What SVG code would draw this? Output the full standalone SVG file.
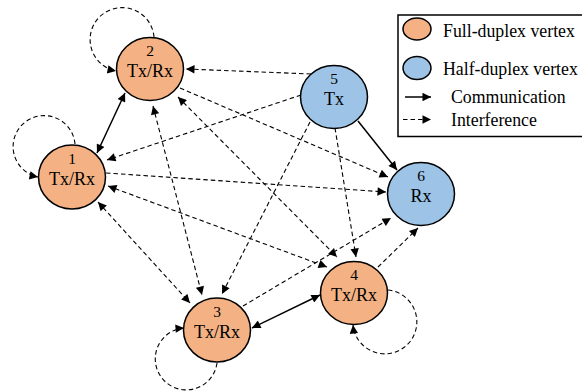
<svg xmlns="http://www.w3.org/2000/svg" width="582" height="392" viewBox="0 0 582 392">
<style>
.fd{fill:#F4B183;stroke:#000;stroke-width:1.5}
.hd{fill:#9DC3E6;stroke:#000;stroke-width:1.5}
.num{font-family:"Liberation Serif","Times New Roman",serif;font-size:15.5px;text-anchor:middle;fill:#000}
.lbl{font-family:"Liberation Serif","Times New Roman",serif;font-size:18px;text-anchor:middle;fill:#000}
.leg{font-family:"Liberation Serif","Times New Roman",serif;font-size:17.8px;fill:#000}
.s{fill:none;stroke:#000;stroke-width:1.5}
.d{fill:none;stroke:#000;stroke-width:1.1;stroke-dasharray:4.5 3}
</style>
<defs>
<marker id="ah" viewBox="0 0 10 10" refX="10" refY="5" markerWidth="10" markerHeight="8.5" markerUnits="userSpaceOnUse" orient="auto-start-reverse">
<path d="M0,0 L10,5 L0,10 Z" fill="#000"/>
</marker>
</defs>
<rect width="582" height="392" fill="#fff"/>
<g id="connectors">
<path class="s" d="M97,153 L125,93" marker-start="url(#ah)" marker-end="url(#ah)"/>
<path class="s" d="M358,121 L397,170" marker-end="url(#ah)"/>
<path class="s" d="M252,328 L320,295" marker-start="url(#ah)" marker-end="url(#ah)"/>
<path class="d" d="M311,74 L186,69" marker-end="url(#ah)"/>
<path class="d" d="M301,95 L107,160" marker-end="url(#ah)"/>
<path class="d" d="M310,122 L222,294" marker-end="url(#ah)"/>
<path class="d" d="M335,128 L356,257" marker-end="url(#ah)"/>
<path class="d" d="M180,88 L388,177" marker-end="url(#ah)"/>
<path class="d" d="M106,173 L386,192" marker-end="url(#ah)"/>
<path class="d" d="M153,106 L202,295" marker-start="url(#ah)" marker-end="url(#ah)"/>
<path class="d" d="M98,202 L190,303" marker-start="url(#ah)" marker-end="url(#ah)"/>
<path class="d" d="M108,186 L327,267" marker-start="url(#ah)" marker-end="url(#ah)"/>
<path class="d" d="M178,97 L337,257" marker-start="url(#ah)" marker-end="url(#ah)"/>
<path class="d" d="M243,306 L391,218" marker-end="url(#ah)"/>
<path class="d" d="M378,267 L418,228" marker-end="url(#ah)"/>
<path class="d" d="M154,37 A32,32 0 1 0 116,71" marker-end="url(#ah)"/>
<path class="d" d="M75,144 A31,31 0 1 0 38,177" marker-end="url(#ah)"/>
<path class="d" d="M217,363 A31,31 0 1 1 184,328" marker-end="url(#ah)"/>
<path class="d" d="M388,290 A32,32 0 1 1 353,325" marker-end="url(#ah)"/>
</g>
<g id="node1"><ellipse class="fd" cx="72" cy="177" rx="33.5" ry="32"/><text class="num" x="72" y="164">1</text><text class="lbl" x="72" y="184.5">Tx/Rx</text></g>
<g id="node2"><ellipse class="fd" cx="150" cy="69" rx="33.5" ry="31.5"/><text class="num" x="150" y="56">2</text><text class="lbl" x="150" y="76.5">Tx/Rx</text></g>
<g id="node3"><ellipse class="fd" cx="217" cy="330" rx="33.5" ry="32"/><text class="num" x="217" y="317">3</text><text class="lbl" x="217" y="337.5">Tx/Rx</text></g>
<g id="node4"><ellipse class="fd" cx="354" cy="293" rx="33.5" ry="31.5"/><text class="num" x="354" y="280">4</text><text class="lbl" x="354" y="300.5">Tx/Rx</text></g>
<g id="node5"><ellipse class="hd" cx="334" cy="97" rx="33.5" ry="31.5"/><text class="num" x="334" y="84">5</text><text class="lbl" x="334" y="104.5">Tx</text></g>
<g id="node6"><ellipse class="hd" cx="421" cy="194" rx="33.5" ry="31.5"/><text class="num" x="421" y="181">6</text><text class="lbl" x="421" y="202">Rx</text></g>
<g id="legend">
<rect x="398" y="15" width="190" height="121.5" fill="#fff" stroke="#000" stroke-width="1.5"/>
<ellipse class="fd" cx="417" cy="29" rx="14" ry="11"/>
<text class="leg" x="443" y="37">Full-duplex vertex</text>
<ellipse class="hd" cx="417" cy="68" rx="14" ry="11.5"/>
<text class="leg" x="443" y="74.5">Half-duplex vertex</text>
<path class="s" d="M405,97 L431,97" marker-end="url(#ah)"/>
<text class="leg" x="451" y="103">Communication</text>
<path class="d" d="M403,119.5 L431,119.5" marker-end="url(#ah)"/>
<text class="leg" x="451" y="126">Interference</text>
</g>
</svg>
